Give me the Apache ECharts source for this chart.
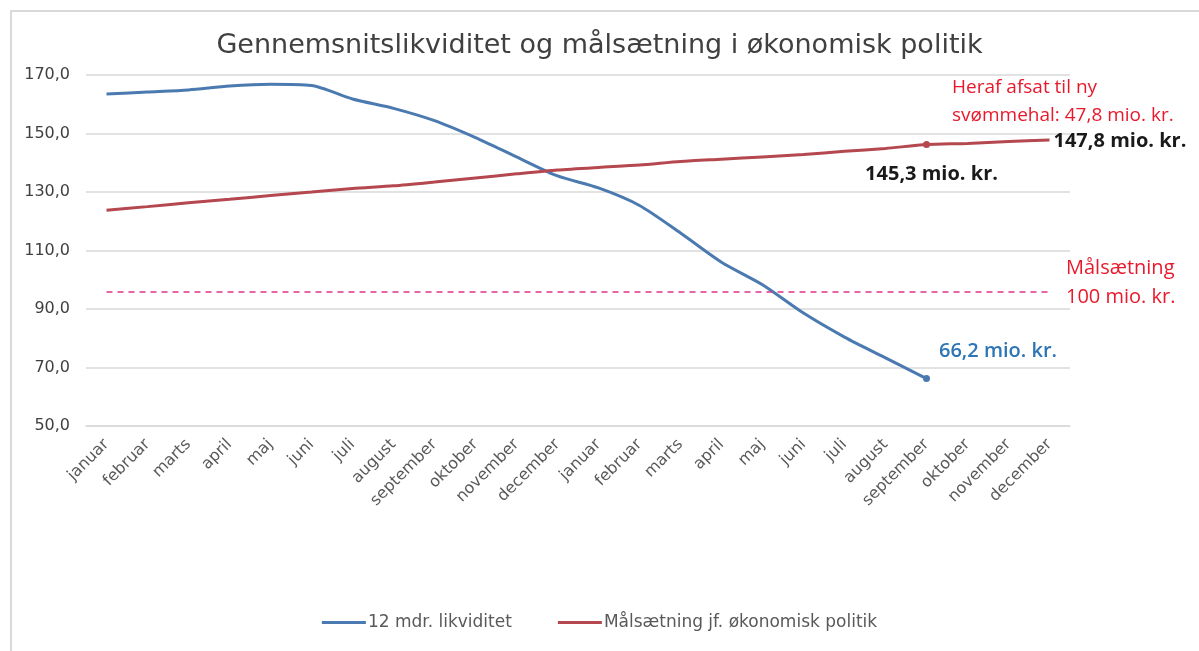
<!DOCTYPE html>
<html lang="da" style="height: 100%">
<head>
    <meta charset="utf-8">
</head>
<body style="height: 100%; margin: 0; background: #fff">
<div id="container" style="width: 1199px; height: 651px"></div>

<script type="text/javascript" src="https://fastly.jsdelivr.net/npm/echarts@6/dist/echarts.min.js"></script>
<script type="text/javascript">
    // måneder (to år)
    var maaneder = ['januar', 'februar', 'marts', 'april', 'maj', 'juni', 'juli', 'august',
        'september', 'oktober', 'november', 'december',
        'januar', 'februar', 'marts', 'april', 'maj', 'juni', 'juli', 'august',
        'september', 'oktober', 'november', 'december'];

    // 12 mdr. likviditet (slutter i september år 2)
    var likviditet = [163.5, 164.2, 164.9, 166.2, 166.8, 166.4, 161.8, 158.6, 154.4, 148.6, 142.0, 135.5,
        131.4, 125.4, 116.0, 106.0, 98.3, 88.6, 80.4, 73.3, 66.2];

    // Målsætning jf. økonomisk politik
    var maalsaetning = [123.8, 125.0, 126.3, 127.5, 128.8, 130.0, 131.2, 132.1, 133.4, 134.8, 136.2, 137.5,
        138.4, 139.2, 140.4, 141.2, 142.0, 142.8, 143.9, 144.9, 146.2, 146.6, 147.3, 147.8];

    var maalLinje = 96;
    var yTicks = [50, 170, 20];

    var fontFam = '"Open Sans", "Liberation Sans", sans-serif';
    var aksFont = '"DejaVu Sans", sans-serif';
    var blaa = '#4a7ab0';
    var roed = '#b5474f';
    var roedTekst = '#e8192c';

    var dom = document.getElementById('container');
    var myChart = echarts.init(dom, null, { renderer: 'canvas' });

    var blaaData = likviditet.map(function (v, i) {
        if (i === 20) {
            return {
                value: v,
                symbolSize: 7,
                label: {
                    show: true, position: 'right', offset: [4, -27],
                    formatter: '66,2 mio. kr.',
                    color: '#2e75b6', fontWeight: 600, fontSize: 20, fontFamily: fontFam
                }
            };
        }
        return v;
    });

    var roedData = maalsaetning.map(function (v, i) {
        if (i === 20) {
            return {
                value: v,
                symbolSize: 7,
                label: {
                    show: true, position: 'bottom', offset: [5, 11],
                    formatter: '145,3 mio. kr.',
                    color: '#1a1a1a', fontWeight: 'bold', fontSize: 20, fontFamily: fontFam
                }
            };
        }
        if (i === 23) {
            return {
                value: v,
                label: {
                    show: true, position: 'right', offset: [0, 1], distance: 4,
                    formatter: '147,8 mio. kr.',
                    color: '#1a1a1a', fontWeight: 'bold', fontSize: 20, fontFamily: fontFam
                }
            };
        }
        return v;
    });

    var option = {
        animation: false,
        title: {
            text: 'Gennemsnitslikviditet og målsætning i økonomisk politik',
            left: 'center',
            top: 27,
            textStyle: { fontFamily: aksFont, fontWeight: 'normal', fontSize: 27, color: '#404040' }
        },
        legend: {
            bottom: 15,
            left: 'center',
            itemGap: 46,
            itemWidth: 44,
            itemHeight: 3,
            icon: 'rect',
            textStyle: { fontFamily: aksFont, fontSize: 17, color: '#595959', padding: [0, 0, 0, -3] },
            data: ['12 mdr. likviditet', 'Målsætning jf. økonomisk politik']
        },
        grid: {
            left: 86,
            right: 129,
            top: 75,
            bottom: 225,
            containLabel: false
        },
        xAxis: {
            type: 'category',
            data: maaneder,
            boundaryGap: true,
            axisLine: { lineStyle: { color: '#d9d9d9', width: 1.5 } },
            axisTick: { show: false },
            axisLabel: {
                rotate: 45,
                interval: 0,
                margin: 16,
                fontFamily: aksFont,
                fontSize: 16,
                color: '#595959'
            }
        },
        yAxis: {
            type: 'value',
            min: yTicks[0],
            max: yTicks[1],
            interval: yTicks[2],
            axisLine: { show: false },
            axisTick: { show: false },
            splitLine: { lineStyle: { color: '#d9d9d9', width: 1.5 } },
            axisLabel: {
                margin: 16,
                fontFamily: aksFont,
                fontSize: 16,
                color: '#404040',
                formatter: function (v) { return v.toFixed(1).replace('.', ','); }
            }
        },
        series: [
            {
                name: '12 mdr. likviditet',
                type: 'line',
                data: blaaData,
                symbol: 'circle',
                symbolSize: 0,
                smooth: 0.25,
                itemStyle: { color: blaa },
                lineStyle: { color: blaa, width: 3 }
            },
            {
                name: 'Målsætning jf. økonomisk politik',
                type: 'line',
                data: roedData,
                symbol: 'circle',
                symbolSize: 0,
                smooth: 0.25,
                itemStyle: { color: roed },
                lineStyle: { color: roed, width: 3 },
                markLine: {
                    silent: true,
                    symbol: 'none',
                    lineStyle: { color: '#e0338a', type: [6, 5], width: 1.5 },
                    label: { show: false },
                    data: [[
                        { coord: [-0.25, maalLinje] },
                        { coord: [23, maalLinje] }
                    ]]
                }
            }
        ],
        graphic: [
            {
                type: 'rect',
                shape: { x: 11, y: 11, width: 1400, height: 900 },
                style: { fill: 'none', stroke: '#d9d9d9', lineWidth: 2 },
                silent: true
            },
            {
                type: 'text',
                left: 952,
                top: 74,
                style: {
                    text: 'Heraf afsat til ny\nsvømmehal: 47,8 mio. kr.',
                    fill: roedTekst,
                    font: '19px ' + fontFam,
                    lineHeight: 28
                }
            },
            {
                type: 'text',
                left: 1066,
                top: 254,
                style: {
                    text: 'Målsætning\n100 mio. kr.',
                    fill: roedTekst,
                    font: '20px ' + fontFam,
                    lineHeight: 29
                }
            }
        ]
    };

    myChart.setOption(option);
    window.addEventListener('resize', myChart.resize);
</script>
</body>
</html>
